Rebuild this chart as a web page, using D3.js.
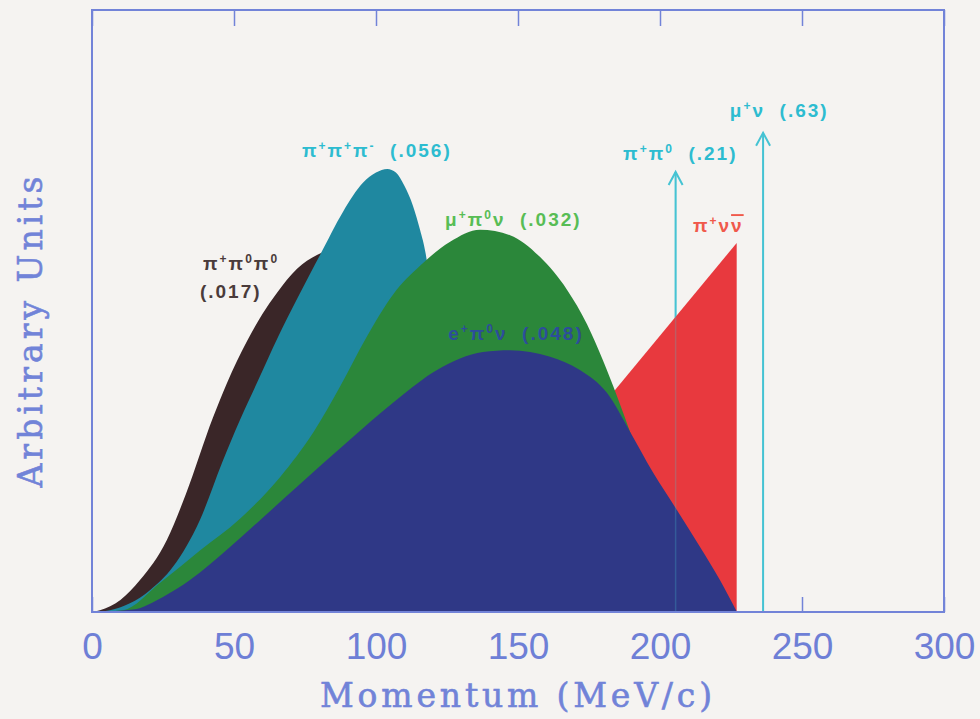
<!DOCTYPE html>
<html>
<head>
<meta charset="utf-8">
<script src="https://cdn.jsdelivr.net/npm/d3@7"></script>
<style>
html, body { margin: 0; padding: 0; background: #f5f3f1; }
svg { display: block; }
</style>
</head>
<body>
<script>
// momentum spectra of K+ decays (arbitrary units)
var xTicks = [0, 50, 100, 150, 200, 250, 300];

// K+ -> pi+ pi0 pi0
var pi0pi0X = [0, 2.8, 10, 16.9, 26.4, 33, 42.6, 47.5, 54.6, 60, 65.1, 72.2, 79.2, 88, 98, 110, 120, 128, 133];
var pi0pi0Y = [0, 0.3, 2.0, 5.3, 12.0, 19.5, 32.3, 38.0, 45.0, 49.5, 53.0, 57.0, 59.3, 60.5, 59.0, 52.0, 38.0, 18.0, 0];

// K+ -> pi+ pi+ pi-
var pipipiX = [0, 6.3, 20.4, 28.5, 38, 45.8, 52.1, 58.5, 65.5, 72.5, 76.8, 80.3, 88.4, 95.4, 100, 104, 107, 110, 113, 115.5, 117.5, 121, 124, 125];
var pipipiY = [0, 0.3, 3.6, 7.5, 15.3, 24.8, 31.9, 38.5, 45.7, 52.3, 56.2, 59.3, 66.5, 71.3, 73.0, 73.6, 73.0, 70.8, 67.5, 63.5, 59.5, 45.0, 20.0, 0];

// K+ -> mu+ pi0 nu
var mupi0nuX = [0, 10.9, 23.9, 38, 52.1, 66.2, 77.9, 87.3, 96.7, 106.1, 115.5, 126.1, 136.6, 147.2, 157.7, 167.3, 174.3, 179.9, 184.9, 189.4, 195, 200, 207, 215];
var mupi0nuY = [0, 0.3, 4.8, 10.2, 15.5, 22.4, 29.8, 37.4, 45.7, 52.8, 57.5, 61.5, 63.5, 62.6, 59.0, 53.5, 47.8, 41.8, 35.8, 30.0, 22.3, 15.0, 6.0, 0];

// K+ -> e+ pi0 nu
var epi0nuX = [0, 14.4, 25, 34.5, 48.6, 58.1, 72.2, 89.8, 107.4, 121.5, 137.7, 147.2, 161.3, 171.8, 181.3, 189.4, 197.5, 206, 214.1, 221.1, 227.1];
var epi0nuY = [0, 0.4, 2.5, 5.3, 10.8, 14.8, 20.8, 28.2, 35.3, 40.2, 43.2, 43.5, 42.4, 40.2, 36.4, 30.0, 23.2, 16.9, 10.8, 5.3, 0];

// K+ -> pi+ nu nubar
var pinunuX = [119.5, 227];
var pinunuY = [0, 61.3];

// two-body decays (momentum, arrow height)
var twoBodyP = [205.5, 236.3];
var twoBodyH = [73.1, 79.6];

var width = 980, height = 719;
var x = d3.scaleLinear().domain([0, 300]).range([92, 944]);
var y = d3.scaleLinear().domain([0, 100]).range([612, 10]);

var svg = d3.select("body").append("svg").attr("width", width).attr("height", height);

function pts(xs, ys) {
    return xs.map(function (v, i) { return [v, ys[i]]; });
}

var area = d3.area()
    .x(function (d) { return x(d[0]); })
    .y0(y(0))
    .y1(function (d) { return y(d[1]); })
    .curve(d3.curveMonotoneX);

var axisColor = "#7283d8";
var arrowColor = "#45c3d3";

// bottom ticks sit under the filled areas
var gBottom = svg.append("g")
    .attr("transform", "translate(0," + y(0) + ")")
    .call(d3.axisBottom(x).tickValues(xTicks).tickSize(-15).tickPadding(21).tickFormat(d3.format("d")));
gBottom.select(".domain").remove();
gBottom.selectAll("line").attr("stroke", axisColor).attr("stroke-width", 1.5);
gBottom.selectAll("text")
    .attr("fill", "#6e7fd6")
    .style("font-family", "'Liberation Sans', Arial, sans-serif")
    .style("font-size", "37px");

// arrows for the two-body decays (under the fills)
var arrows = svg.append("g");
twoBodyP.forEach(function (p, i) {
    var ax = x(p), ay = y(twoBodyH[i]);
    arrows.append("line")
        .attr("x1", ax).attr("x2", ax).attr("y1", y(0)).attr("y2", ay)
        .attr("stroke", arrowColor).attr("stroke-width", 2);
    arrows.append("path")
        .attr("d", "M" + (ax - 7) + "," + (ay + 13) + "L" + ax + "," + ay + "L" + (ax + 7) + "," + (ay + 13))
        .attr("fill", "none").attr("stroke", arrowColor).attr("stroke-width", 2);
});

// filled spectra, back to front
svg.append("path").datum(pts(pinunuX, pinunuY))
    .attr("d", area.curve(d3.curveLinear)).attr("fill", "#e8393e");
area.curve(d3.curveMonotoneX);
svg.append("path").datum(pts(pi0pi0X, pi0pi0Y)).attr("d", area).attr("fill", "#3a2628");
svg.append("path").datum(pts(pipipiX, pipipiY)).attr("d", area).attr("fill", "#1f88a0");
svg.append("path").datum(pts(mupi0nuX, mupi0nuY)).attr("d", area).attr("fill", "#2b873a");
svg.append("path").datum(pts(epi0nuX, epi0nuY)).attr("d", area).attr("fill", "#2f3886");

// faint trace of the arrow shafts through the fills
twoBodyP.forEach(function (p, i) {
    svg.append("line")
        .attr("x1", x(p)).attr("x2", x(p)).attr("y1", y(0)).attr("y2", y(twoBodyH[i]))
        .attr("stroke", arrowColor).attr("stroke-width", 1.5).attr("opacity", 0.25);
});

// frame and top ticks
svg.append("rect")
    .attr("x", x(0)).attr("y", y(100))
    .attr("width", x(300) - x(0)).attr("height", y(0) - y(100))
    .attr("fill", "none").attr("stroke", axisColor).attr("stroke-width", 2);
var gTop = svg.append("g")
    .attr("transform", "translate(0," + y(100) + ")")
    .call(d3.axisTop(x).tickValues(xTicks).tickSize(-16).tickFormat(""));
gTop.select(".domain").remove();
gTop.selectAll("line").attr("stroke", axisColor).attr("stroke-width", 1.5);

// decay labels: "^" = next character superscript, "_" = next character overlined
var labels = [
    { t: "π^+π^0π^0", x: 39.1, y: 56.8, c: "#4a3b3b" },
    { t: "(.017)", x: 38.0, y: 52.2, c: "#4a3b3b" },
    { t: "π^+π^+π^-  (.056)", x: 73.9, y: 75.6, c: "#2dbcd0" },
    { t: "μ^+π^0ν  (.032)", x: 124.3, y: 64.1, c: "#58bd55" },
    { t: "e^+π^0ν  (.048)", x: 125.4, y: 45.2, c: "#2d4d9b" },
    { t: "π^+ν_ν", x: 211.6, y: 63.1, c: "#f0594b" },
    { t: "π^+π^0  (.21)", x: 187.0, y: 75.1, c: "#2dbcd0" },
    { t: "μ^+ν  (.63)", x: 224.6, y: 82.2, c: "#2dbcd0" }
];

labels.forEach(function (l) {
    var txt = svg.append("text")
        .attr("x", x(l.x)).attr("y", y(l.y))
        .attr("fill", l.c)
        .style("font-family", "'Liberation Sans', 'DejaVu Sans', sans-serif")
        .style("font-size", "19px")
        .style("font-weight", "bold")
        .style("letter-spacing", "2px")
        .style("white-space", "pre");
    var run = "";
    for (var i = 0; i < l.t.length; i++) {
        var ch = l.t[i];
        if (ch === "^" || ch === "_") {
            if (run) { txt.append("tspan").text(run); run = ""; }
            var sp = txt.append("tspan").text(l.t[i + 1]);
            if (ch === "^") sp.attr("baseline-shift", "7px").style("font-size", "12px");
            else sp.style("text-decoration", "overline");
            i++;
        } else {
            run += ch;
        }
    }
    if (run) txt.append("tspan").text(run);
});

// axis titles
svg.append("text")
    .attr("x", 516).attr("y", 707)
    .attr("text-anchor", "middle")
    .attr("textLength", 392).attr("lengthAdjust", "spacing")
    .attr("fill", "#7183d8").attr("stroke", "#7183d8").attr("stroke-width", 0.6)
    .style("font-family", "'DejaVu Serif', 'Liberation Serif', serif")
    .style("font-size", "33px")
    .text("Momentum (MeV/c)");

svg.append("text")
    .attr("transform", "translate(42,332) rotate(-90)")
    .attr("text-anchor", "middle")
    .attr("textLength", 311).attr("lengthAdjust", "spacing")
    .attr("fill", "#7183d8").attr("stroke", "#7183d8").attr("stroke-width", 0.6)
    .style("font-family", "'DejaVu Serif', 'Liberation Serif', serif")
    .style("font-size", "33px")
    .text("Arbitrary Units");
</script>
</body>
</html>
